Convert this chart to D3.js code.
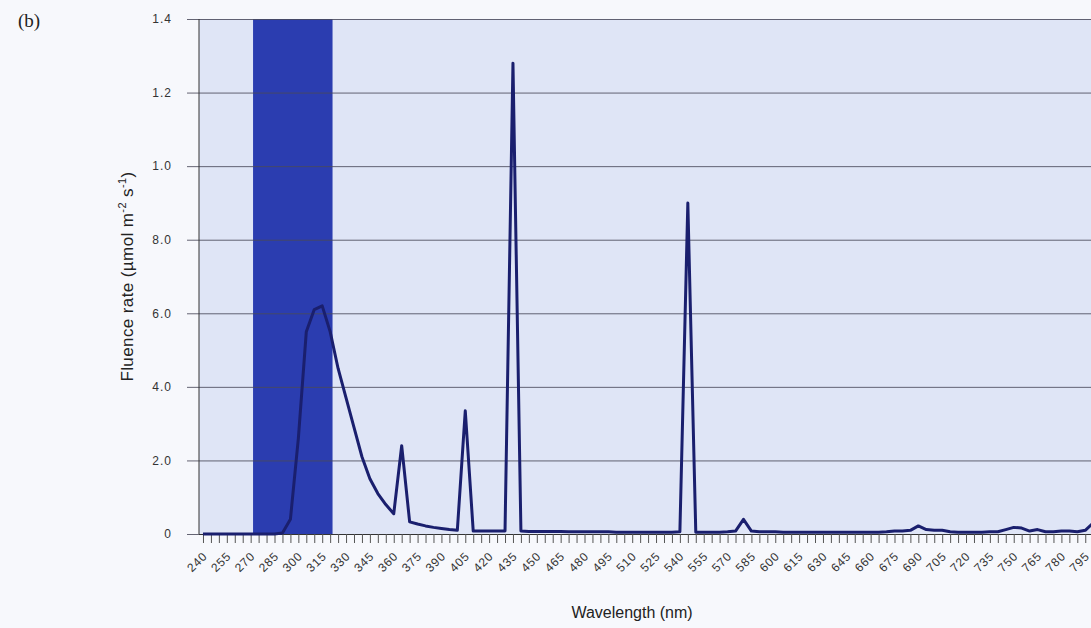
<!DOCTYPE html>
<html>
<head>
<meta charset="utf-8">
<script src="https://cdn.jsdelivr.net/npm/d3@7"></script>
<style>
  html, body { margin: 0; padding: 0; background: #f7f8fc; }
  svg { display: block; }
</style>
</head>
<body>
<div id="chart"></div>
<script>
// ---- data ----
const wavelengths = [
  240,245,250,255,260,265,270,275,280,285,290,295,300,305,310,315,320,325,330,335,
  340,345,350,355,360,365,370,375,380,385,390,395,400,405,410,415,420,425,430,435,
  440,445,450,455,460,465,470,475,480,485,490,495,500,505,510,515,520,525,530,535,
  540,545,550,555,560,565,570,575,580,585,590,595,600,605,610,615,620,625,630,635,
  640,645,650,655,660,665,670,675,680,685,690,695,700,705,710,715,720,725,730,735,
  740,745,750,755,760,765,770,775,780,785,790,795,800
];
const fluence = [
  0,0,0,0,0,0,0,0,0,0,0.003,0.04,0.26,0.55,0.61,0.62,0.55,0.45,0.37,0.29,
  0.21,0.15,0.11,0.08,0.055,0.24,0.033,0.027,0.022,0.018,0.015,0.012,0.01,0.335,0.008,0.008,0.008,0.008,0.008,1.28,
  0.008,0.007,0.007,0.007,0.007,0.007,0.006,0.006,0.006,0.006,0.006,0.006,0.005,0.005,0.005,0.005,0.005,0.005,0.005,0.005,
  0.006,0.9,0.005,0.005,0.005,0.005,0.006,0.008,0.04,0.008,0.006,0.006,0.006,0.005,0.005,0.005,0.005,0.005,0.005,0.005,
  0.005,0.005,0.005,0.005,0.005,0.005,0.006,0.008,0.008,0.01,0.022,0.012,0.01,0.01,0.006,0.005,0.005,0.005,0.005,0.006,
  0.006,0.012,0.018,0.016,0.008,0.012,0.006,0.006,0.008,0.008,0.006,0.01,0.03
];
const bandRange = [271.5, 321.5];
const yTickValues = [0, 0.2, 0.4, 0.6, 0.8, 1.0, 1.2, 1.4];
const yTickLabels = ["0", "2.0", "4.0", "6.0", "8.0", "1.0", "1.2", "1.4"];
const xLabelValues = [240,255,270,285,300,315,330,345,360,375,390,405,420,435,450,465,480,495,510,525,540,555,570,585,600,615,630,645,660,675,690,705,720,735,750,765,780,795];
const panelLabel = "(b)";
const xTitle = "Wavelength (nm)";

// ---- layout ----
const W = 1091, H = 628;
const mLeft = 199, mRight = 1094, mTop = 19, mBottom = 534;
const sans = "Arial, 'Liberation Sans', sans-serif";

const svg = d3.select("#chart").append("svg").attr("width", W).attr("height", H);

const x = d3.scaleLinear().domain([237.5, 800.5]).range([mLeft, mRight]);
const y = d3.scaleLinear().domain([0, 1.4]).range([mBottom, mTop]);

// plot background
svg.append("rect").attr("x", mLeft).attr("y", mTop)
  .attr("width", W - mLeft).attr("height", mBottom - mTop)
  .attr("fill", "#dfe5f6");

// highlighted band
svg.append("rect")
  .attr("x", x(bandRange[0])).attr("y", mTop)
  .attr("width", x(bandRange[1]) - x(bandRange[0]))
  .attr("height", mBottom - mTop)
  .attr("fill", "#2b3db0");

// y axis / gridlines
const yAxis = d3.axisLeft(y).tickValues(yTickValues)
  .tickFormat((d, i) => yTickLabels[i])
  .tickSize(0).tickPadding(15);
const gy = svg.append("g").attr("transform", `translate(${mLeft - 12},0)`);
gy.call(yAxis);
gy.select(".domain").remove();
gy.selectAll(".tick line").attr("stroke", "#4a4a5a").attr("stroke-width", 1).attr("stroke-opacity", 0.85)
  .attr("x1", 0).attr("x2", W - mLeft + 12);
gy.selectAll(".tick text").attr("font-family", sans)
  .attr("font-size", 12).attr("letter-spacing", 1).attr("fill", "#333");

// left axis line
svg.append("line").attr("x1", mLeft).attr("x2", mLeft).attr("y1", mTop).attr("y2", mBottom)
  .attr("stroke", "#333").attr("stroke-width", 1);

// x axis ticks (every 5 nm)
const xAxis = d3.axisBottom(x).tickValues(wavelengths).tickSize(9).tickFormat("");
const gx = svg.append("g").attr("transform", `translate(0,${mBottom})`);
gx.call(xAxis);
gx.select(".domain").attr("stroke", "#333").attr("d", `M${mLeft},0.5H${W}`);
gx.selectAll(".tick line").attr("stroke", "#555");

// x labels (every 15 nm, rotated)
svg.append("g").selectAll("text").data(xLabelValues).join("text")
  .attr("transform", d => `translate(${x(d) + 5},${mBottom + 23}) rotate(-45)`)
  .attr("text-anchor", "end")
  .attr("font-family", sans)
  .attr("font-size", 12).attr("letter-spacing", 0.8).attr("fill", "#333")
  .text(d => d);

// spectrum line
const line = d3.line().x((d, i) => x(wavelengths[i])).y(d => y(d));
svg.append("path").datum(fluence)
  .attr("d", line).attr("fill", "none")
  .attr("stroke", "#1a1f6e").attr("stroke-width", 3).attr("stroke-linejoin", "round");

// titles
svg.append("text").attr("x", 18).attr("y", 27)
  .attr("font-family", "'Liberation Serif', 'Times New Roman', serif")
  .attr("font-size", 19).attr("fill", "#222").text(panelLabel);

const yt = svg.append("text")
  .attr("transform", `translate(133,${(mTop + mBottom) / 2}) rotate(-90)`)
  .attr("text-anchor", "middle")
  .attr("font-family", sans)
  .attr("font-size", 17).attr("letter-spacing", 0.4).attr("fill", "#222");
yt.append("tspan").text("Fluence rate (µmol m");
yt.append("tspan").attr("font-size", 11).attr("dy", -7).text("-2");
yt.append("tspan").attr("dy", 7).text(" s");
yt.append("tspan").attr("font-size", 11).attr("dy", -7).text("-1");
yt.append("tspan").attr("dy", 7).text(")");

svg.append("text").attr("x", 632).attr("y", 618).attr("text-anchor", "middle")
  .attr("font-family", sans)
  .attr("font-size", 16).attr("fill", "#222").text(xTitle);
</script>
</body>
</html>
